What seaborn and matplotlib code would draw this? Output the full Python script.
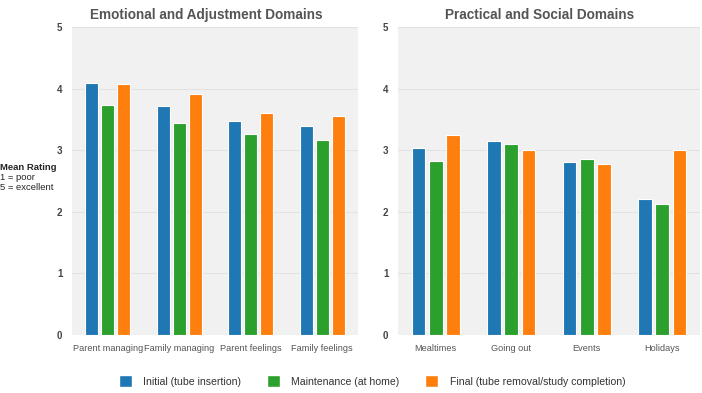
import pandas as pd
import matplotlib
matplotlib.use("Agg")
import matplotlib.pyplot as plt
import seaborn as sns
from matplotlib.patches import Patch

# data
fases = ["Initial (tube insertion)", "Maintenance (at home)", "Final (tube removal/study completion)"]
cores = ["#1f77b4", "#2ca02c", "#ff7f0e"]

dom_emocional = ["Parent managing", "Family managing", "Parent feelings", "Family feelings"]
emo_inicial = [4.09, 3.71, 3.47, 3.39]
emo_manut = [3.73, 3.44, 3.26, 3.16]
emo_final = [4.08, 3.92, 3.61, 3.55]

dom_pratico = ["Mealtimes", "Going out", "Events", "Holidays"]
pra_inicial = [3.04, 3.15, 2.81, 2.20]
pra_manut = [2.82, 3.10, 2.86, 2.12]
pra_final = [3.24, 3.00, 2.78, 3.00]

y_ticks = [0, 1, 2, 3, 4, 5]


def montar_df(dominios, series):
    linhas = []
    for fase, valores in zip(fases, series):
        for d, v in zip(dominios, valores):
            linhas.append({"dominio": d, "fase": fase, "media": v})
    return pd.DataFrame(linhas)


df_emo = montar_df(dom_emocional, [emo_inicial, emo_manut, emo_final])
df_pra = montar_df(dom_pratico, [pra_inicial, pra_manut, pra_final])

sns.set_theme(style="white")
plt.rcParams["font.family"] = ["Liberation Sans", "DejaVu Sans"]

fig = plt.figure(figsize=(7.02, 3.93), dpi=100)
W, H = 702, 393
ax1 = fig.add_axes([72 / W, (H - 335) / H, (358 - 72) / W, (335 - 27) / H])
ax2 = fig.add_axes([398 / W, (H - 335) / H, (700 - 398) / W, (335 - 27) / H])

paineis = [
    (ax1, df_emo, dom_emocional, "Emotional and Adjustment Domains"),
    (ax2, df_pra, dom_pratico, "Practical and Social Domains"),
]

for ax, df, ordem, titulo in paineis:
    sns.barplot(
        data=df, x="dominio", y="media", hue="fase",
        order=ordem, hue_order=fases, palette=cores, saturation=1,
        width=0.68, gap=0.2, edgecolor="white", linewidth=0.8,
        legend=False, ax=ax,
    )
    ax.set_facecolor("#f1f1f1")
    ax.set_ylim(0, 5)
    ax.set_yticks(y_ticks)
    ax.set_yticklabels([str(t) for t in y_ticks], fontsize=7, fontweight="bold", color="#444444")
    ax.yaxis.grid(True, color="#e2e2e2", linewidth=0.8)
    ax.set_axisbelow(True)
    ax.tick_params(axis="y", length=0, pad=7)
    ax.tick_params(axis="x", length=0, pad=6.5, labelsize=6.6, labelcolor="#555555")
    ax.set_xlabel("")
    ax.set_ylabel("")
    ax.set_title(titulo, fontsize=9.8, fontweight="bold", color="#555555", x=0.47, pad=6)
    sns.despine(ax=ax, left=True, bottom=True)

fig.text(0.0, (H - 167) / H, "Mean Rating", fontsize=6.8, fontweight="bold", va="center", ha="left")
fig.text(0.0, (H - 177) / H, "1 = poor", fontsize=6.8, va="center", ha="left")
fig.text(0.0, (H - 187) / H, "5 = excellent", fontsize=6.8, va="center", ha="left")

handles = [Patch(facecolor=c, edgecolor="white", label=f) for c, f in zip(cores, fases)]
fig.legend(
    handles=handles, loc="center", bbox_to_anchor=(372 / W, (H - 381) / H),
    ncol=3, frameon=False, fontsize=7.6, handlelength=1.25, handleheight=1.25,
    columnspacing=2.4, handletextpad=1.1,
)
for t in fig.legends[0].get_texts():
    t.set_color("#333333")

fig.savefig("out.png", dpi=100)
